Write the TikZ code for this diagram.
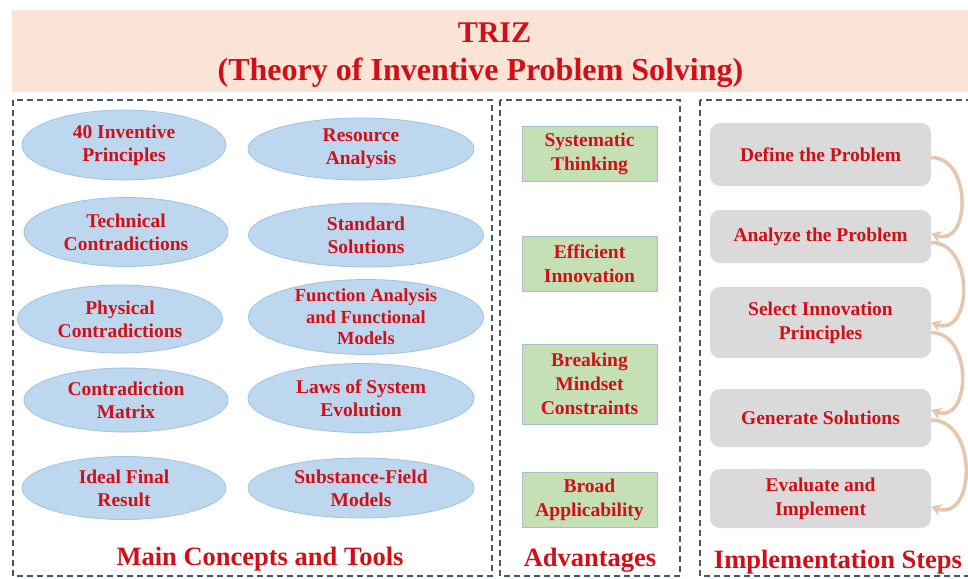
\documentclass[tikz,border=0pt]{standalone}
\usepackage{fontspec}
\setmainfont{Liberation Serif}
\usetikzlibrary{shapes.geometric,arrows.meta}
\definecolor{trizred}{RGB}{208,16,24}
\definecolor{hdrfill}{RGB}{251,227,214}
\definecolor{ellfill}{RGB}{189,215,238}
\definecolor{elldraw}{RGB}{160,195,228}
\definecolor{grnfill}{RGB}{197,224,180}
\definecolor{grndraw}{RGB}{165,192,205}
\definecolor{gryfill}{RGB}{218,218,218}
\definecolor{dashcol}{RGB}{68,84,106}
\definecolor{arrcol}{RGB}{230,198,172}
\begin{document}
\begin{tikzpicture}[x=1pt,y=-1pt,
  every node/.style={text=trizred},
  concept/.style={ellipse, fill=ellfill, draw=elldraw, line width=0.8pt, inner sep=0pt},
  ctext/.style={align=center, font=\bfseries\fontsize{19.5}{23}\selectfont, text=trizred},
  ctextsm/.style={align=center, font=\bfseries\fontsize{18.5}{21.5}\selectfont, text=trizred},
  advbox/.style={rectangle, fill=grnfill, draw=grndraw, line width=1pt, minimum width=135pt, inner sep=0pt, align=center, font=\bfseries\fontsize{19.5}{24}\selectfont},
  stepbox/.style={rectangle, rounded corners=10pt, fill=gryfill, minimum width=221pt, inner sep=0pt, align=center, font=\bfseries\fontsize{19.5}{24}\selectfont},
  section/.style={anchor=base, font=\bfseries\fontsize{26.5}{30}\selectfont},
  panel/.style={draw=dashcol, line width=1.3pt, dash pattern=on 6pt off 4pt},
  flow/.style={draw=arrcol, line width=3.5pt, -{Stealth[length=10pt,width=12pt]}, out=0, in=-20, looseness=1.4}
]
\useasboundingbox (0,0) rectangle (968,578);
\fill[white] (0,0) rectangle (968,578);

% header
\node[fill=hdrfill, minimum width=956pt, minimum height=82pt, inner sep=0pt] (hdr) at (490,51) {};
\node[font=\bfseries\fontsize{30}{34}\selectfont] (title) at (494.5,33) {TRIZ};
\node[font=\bfseries\fontsize{32}{36}\selectfont] (subtitle) at (480.5,73) {(Theory of Inventive Problem Solving)};

% panels
\draw[panel] (13,100) rectangle (492,576);
\draw[panel] (500,100) rectangle (680,576);
\draw[panel] (700,100) rectangle (980,576);

% main concepts
\node[concept, minimum width=204pt, minimum height=70pt, label={[ctext]center:{40 Inventive\\Principles}}] (c1) at (124,145) {};
\node[concept, minimum width=226pt, minimum height=62pt, label={[ctext]center:{Resource\\Analysis}}] (c2) at (361,149) {};
\node[concept, minimum width=204pt, minimum height=69pt, label={[ctext]center:{Technical\\Contradictions}}] (c3) at (126,232) {};
\node[concept, minimum width=235pt, minimum height=64pt, label={[ctext]center:{Standard\\Solutions}}] (c4) at (366,235) {};
\node[concept, minimum width=205pt, minimum height=68pt, label={[ctext]center:{Physical\\Contradictions}}] (c5) at (120,319) {};
\node[concept, minimum width=235pt, minimum height=75pt, label={[ctextsm]center:{Function Analysis\\and Functional\\Models}}] (c6) at (366,317) {};
\node[concept, minimum width=204pt, minimum height=64pt, label={[ctext]center:{Contradiction\\Matrix}}] (c7) at (126,400) {};
\node[concept, minimum width=226pt, minimum height=69pt, label={[ctext]center:{Laws of System\\Evolution}}] (c8) at (361,398) {};
\node[concept, minimum width=204pt, minimum height=63pt, label={[ctext]center:{Ideal Final\\Result}}] (c9) at (124,488) {};
\node[concept, minimum width=226pt, minimum height=60pt, label={[ctext]center:{Substance-Field\\Models}}] (c10) at (361,488) {};
\node[section] (lab1) at (260,565) {Main Concepts and Tools};

% advantages
\node[advbox, minimum height=55pt] (a1) at (589.5,153.5) {Systematic\\Thinking};
\node[advbox, minimum height=55pt] (a2) at (589.5,263.5) {Efficient\\Innovation};
\node[advbox, minimum height=80pt] (a3) at (589.5,384) {Breaking\\Mindset\\Constraints};
\node[advbox, minimum height=55pt] (a4) at (589.5,499.5) {Broad\\Applicability};
\node[section] (lab2) at (590,566) {Advantages};

% implementation steps
\node[stepbox, minimum height=63pt] (s1) at (820.5,154.5) {Define the Problem};
\node[stepbox, minimum height=53pt] (s2) at (820.5,236.5) {Analyze the Problem};
\node[stepbox, minimum height=71pt] (s3) at (820.5,322.5) {Select Innovation\\Principles};
\node[stepbox, minimum height=58pt] (s4) at (820.5,418) {Generate Solutions};
\node[stepbox, minimum height=59pt] (s5) at (820.5,498.5) {Evaluate and\\Implement};
\node[section] (lab3) at (838,568) {Implementation Steps};

\draw[flow] ([yshift=-3pt]s1.east) to ([yshift=3pt]s2.east);
\draw[flow] ([yshift=-6pt]s2.east) to ([yshift=0pt]s3.east);
\draw[flow] ([yshift=-10pt]s3.east) to ([yshift=8pt]s4.east);
\draw[flow] ([yshift=-2pt]s4.east) to ([yshift=-8pt]s5.east);
\end{tikzpicture}
\end{document}
